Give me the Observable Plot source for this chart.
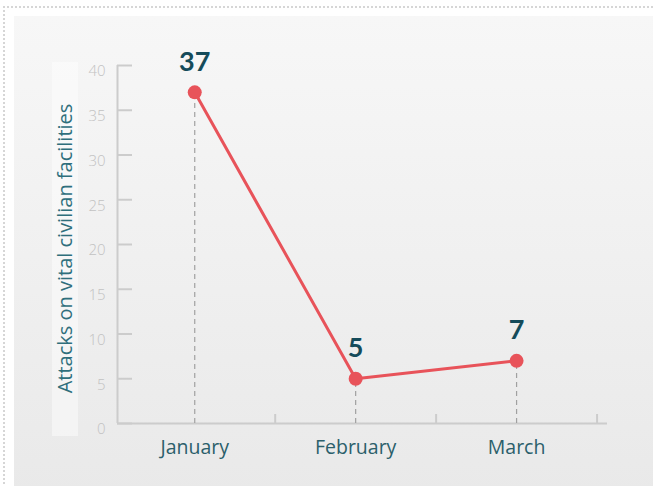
<!DOCTYPE html>
<html><head><meta charset="utf-8">
<script src="https://cdn.jsdelivr.net/npm/d3@7"></script>
<script src="https://cdn.jsdelivr.net/npm/@observablehq/plot@0.6"></script>
<style>
html,body{margin:0;padding:0;background:#fff;}
#wrap{position:relative;width:653px;height:486px;overflow:hidden;font-family:"Open Sans",Lato,sans-serif;}
#dots{position:absolute;left:3px;top:6px;width:700px;height:600px;border-top:2px dotted #d6d6d6;border-left:2px dotted #d6d6d6;}
#panel{position:absolute;left:14px;top:16px;width:640px;height:480px;background:linear-gradient(#f7f7f7,#e9e9e9);}
#titlebox{position:absolute;left:52px;top:62px;width:26px;height:374px;background:rgba(255,255,255,0.45);}
#chart{position:absolute;left:0;top:0;}
</style></head><body>
<div id="wrap"><div id="dots"></div><div id="panel"></div><div id="titlebox"></div><div id="chart"></div></div>
<script>
const months = ["January", "February", "March"];
const attacks = [37, 5, 7];
const yTicks = [0, 5, 10, 15, 20, 25, 30, 35, 40];
const yTitle = "Attacks on vital civilian facilities";

const data = months.map((m, i) => ({i, month: m, value: attacks[i]}));
const separators = months.map((m, i) => i + 0.5);

const chart = Plot.plot({
  width: 653,
  height: 486,
  marginLeft: 117,
  marginRight: 46,
  marginTop: 65,
  marginBottom: 63,
  style: {background: "transparent", fontFamily: "'Open Sans', Lato, sans-serif", overflow: "visible"},
  x: {type: "linear", domain: [-0.48, 2.565]},
  y: {domain: [0, 40]},
  marks: [
    Plot.ruleX([-0.48], {stroke: "#cccccc", strokeWidth: 2}),
    Plot.ruleY([0], {stroke: "#cccccc", strokeWidth: 2}),
    Plot.axisY(yTicks, {tickSize: -15, tickFormat: () => "", stroke: "#cccccc", strokeWidth: 2, label: null}),
    Plot.axisY(yTicks, {tickSize: 0, tickPadding: 12, dy: 6, fontSize: 15, fill: "#c2c2c2", fontWeight: 300, label: null}),
    Plot.axisX(separators, {tickSize: -9, tickFormat: () => "", stroke: "#cccccc", strokeWidth: 2, label: null}),
    Plot.axisX(data.map(d => d.i), {tickSize: 0, tickPadding: 17, tickFormat: i => months[i], fontSize: 19.5, fill: "#2b5f6b", label: null}),
    Plot.text([yTitle], {frameAnchor: "left", textAnchor: "middle", rotate: -90, dx: -52, dy: 4, fontSize: 20, fill: "#2f6f7c", text: d => d}),
    Plot.ruleX(data, {x: "i", y1: 0, y2: "value", stroke: "#a0a0a0", strokeWidth: 1.2, strokeDasharray: "5,4"}),
    Plot.line(data, {x: "i", y: "value", stroke: "#e8535a", strokeWidth: 3}),
    Plot.dot(data, {x: "i", y: "value", r: 7, fill: "#e8535a", stroke: "none"}),
    Plot.text(data, {x: "i", y: "value", text: d => String(d.value), dy: -30, fontSize: 27, fontWeight: "bold", fill: "#154b5a", fontFamily: "Lato, sans-serif"})
  ]
});
document.getElementById("chart").appendChild(chart);
</script>
</body></html>
